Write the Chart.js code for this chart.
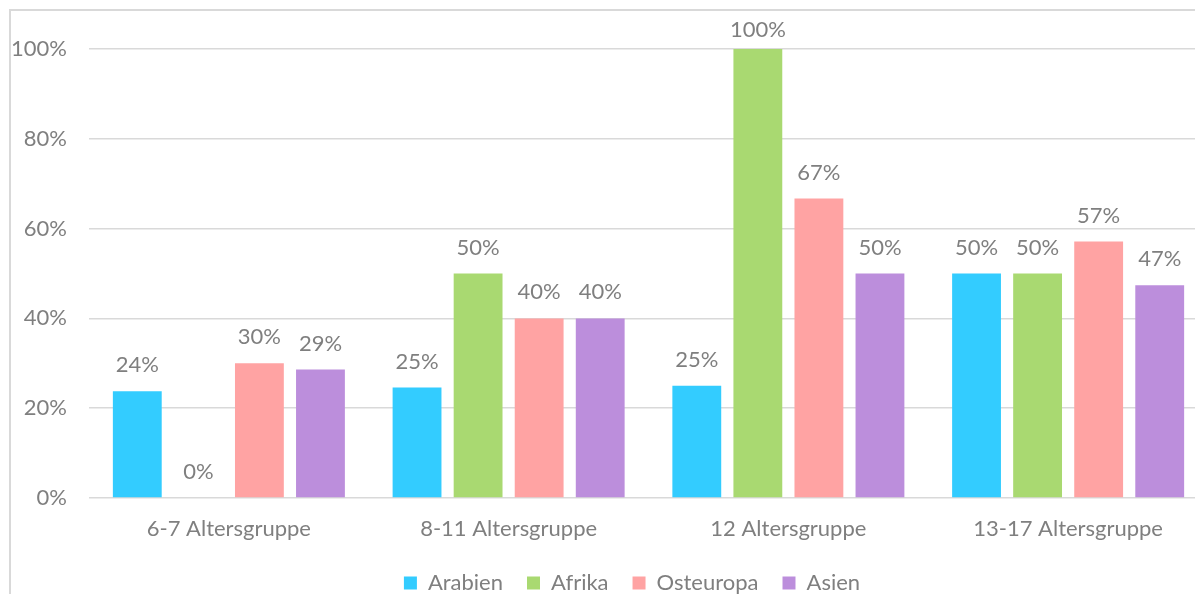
<!DOCTYPE html>
<html>
<head>
<meta charset="utf-8">
<script src="https://cdn.jsdelivr.net/npm/chart.js@4.4.1/dist/chart.umd.min.js"></script>
<style>
  html, body { margin: 0; padding: 0; background: #fff; overflow: hidden; }
  #frame { position: absolute; left: 9px; top: 9px; width: 1300px; height: 700px;
           border-left: 2px solid #d9d9d9; border-top: 2px solid #d9d9d9; }
  #wrap { position: absolute; left: 0; top: 0; width: 1244px; height: 604px; }
</style>
</head>
<body>
<div id="frame"></div>
<div id="wrap"><canvas id="chart"></canvas></div>
<script>
const categories = ['6-7 Altersgruppe', '8-11 Altersgruppe', '12 Altersgruppe', '13-17 Altersgruppe'];
const seriesNames = ['Arabien', 'Afrika', 'Osteuropa', 'Asien'];
const arabien = [23.8, 24.6, 25, 50];
const afrika = [0, 50, 100, 50];
const osteuropa = [30, 40, 66.7, 57.1];
const asien = [28.6, 40, 50, 47.4];
const colors = ['#33ccff', '#a9d971', '#ffa3a3', '#bc8edc'];
const yTicks = [0, 20, 40, 60, 80, 100];

const textColor = '#7f7f7f';
const fontFamily = 'Lato, "Open Sans", sans-serif';
const fontSize = 22;

// simple value labels above the bars
const valueLabels = {
    id: 'valueLabels',
    afterDatasetsDraw(chart) {
        const ctx = chart.ctx;
        ctx.save();
        ctx.font = fontSize + 'px ' + fontFamily;
        ctx.fillStyle = textColor;
        ctx.textAlign = 'center';
        ctx.textBaseline = 'middle';
        chart.data.datasets.forEach((ds, i) => {
            chart.getDatasetMeta(i).data.forEach((bar, j) => {
                const y = Math.max(bar.y - 26, 30);
                ctx.fillText(Math.round(ds.data[j]) + '%', bar.x, y);
            });
        });
        ctx.restore();
    }
};

// excel centres the legend on the whole chart frame, which is a bit wider
const legendShift = {
    id: 'legendShift',
    afterLayout(chart) {
        const lg = chart.legend;
        if (lg) { lg.left += 28; lg.right += 28; }
    }
};

const allSeries = [arabien, afrika, osteuropa, asien];

new Chart(document.getElementById('chart'), {
    type: 'bar',
    data: {
        labels: categories,
        datasets: allSeries.map((values, i) => ({
            label: seriesNames[i],
            data: values,
            backgroundColor: colors[i],
            categoryPercentage: 0.873,
            barPercentage: 0.8
        }))
    },
    options: {
        responsive: true,
        maintainAspectRatio: false,
        animation: false,
        layout: { padding: { left: 0, right: 36, top: 49, bottom: 0 } },
        scales: {
            x: {
                grid: { display: false, drawTicks: false },
                border: { display: false },
                ticks: { color: textColor, font: { family: fontFamily, size: fontSize }, padding: 18 },
                afterFit(axis) { axis.height = 50; }
            },
            y: {
                min: 0,
                max: 100,
                afterBuildTicks(axis) { axis.ticks = yTicks.map(v => ({ value: v })); },
                grid: { color: '#d9d9d9', lineWidth: 1.5, drawTicks: false },
                border: { display: false },
                ticks: {
                    color: textColor,
                    font: { family: fontFamily, size: fontSize },
                    padding: 22,
                    callback: v => v + '%'
                },
                afterFit(axis) { axis.width = 89; }
            }
        },
        plugins: {
            legend: {
                position: 'bottom',
                labels: {
                    color: textColor,
                    font: { family: fontFamily, size: fontSize },
                    boxWidth: 13,
                    boxHeight: 13,
                    padding: 24
                }
            },
            tooltip: { enabled: false }
        }
    },
    plugins: [valueLabels, legendShift]
});
</script>
</body>
</html>
